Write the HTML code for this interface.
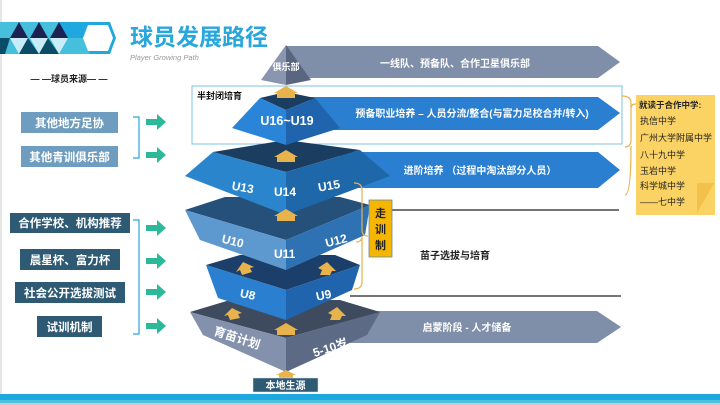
<!DOCTYPE html>
<html><head><meta charset="utf-8"><style>
body{margin:0;background:#fff;}
svg{display:block;font-family:"Liberation Sans","Noto Sans CJK SC",sans-serif;}
</style></head><body>
<svg width="720" height="405" viewBox="0 0 720 405" xmlns="http://www.w3.org/2000/svg">
<rect x="0" y="0" width="720" height="405" fill="#fff"/>
<rect x="0" y="0" width="2" height="405" fill="#e6e6e6"/>
<!-- header banner -->
<rect x="0" y="22" width="110" height="16" fill="#45bfdc"/>
<rect x="0" y="38" width="110" height="16" fill="#45bfdc"/>
<rect x="60" y="22" width="50" height="16" fill="#1fa7e0"/>
<polygon points="10,38 19,22 28,38" fill="#1b2352"/>
<polygon points="30,38 39,22 48,38" fill="#1b2352"/>
<polygon points="50,38 59,22 68,38" fill="#1b2352"/>
<polygon points="0,38 10,38 5,54 0,54" fill="#0b4c66"/>
<polygon points="10,38 28,38 19,54" fill="#c9ecf6"/>
<polygon points="19,54 28,38 39,54" fill="#0b4c66"/>
<polygon points="30,38 48,38 39,54" fill="#c9ecf6"/>
<polygon points="39,54 48,38 59,54" fill="#0b4c66"/>
<polygon points="50,38 68,38 59,54" fill="#c9ecf6"/>
<polygon points="90,22 110,22 116,38 110,54 90,54 84,38" fill="#1fa7e0"/>
<polygon points="88,25 108,25 113,38 108,51 88,51 83,38" fill="#fff"/>
<text x="130" y="45" font-size="23" font-weight="bold" fill="#29a6dc">球员发展路径</text>
<text x="130" y="60" font-size="7.5" font-style="italic" fill="#999">Player Growing Path</text>
<!-- left sources -->
<text x="69" y="82" font-size="9" font-weight="bold" fill="#222" text-anchor="middle">— —球员来源— —</text>
<rect x="21" y="112" width="97" height="21" fill="#6f9dc0"/>
<text x="69.5" y="127" font-size="11.5" font-weight="bold" fill="#fff" text-anchor="middle">其他地方足协</text>
<rect x="21" y="146" width="97" height="21" fill="#6f9dc0"/>
<text x="69.5" y="161" font-size="11.5" font-weight="bold" fill="#fff" text-anchor="middle">其他青训俱乐部</text>
<path d="M133,117 H139 V158 H133" fill="none" stroke="#29a6dc" stroke-width="1.2"/>
<path d="M10,213 H130 V233 H10 Z" fill="#2e5a74"/>
<text x="70" y="227" font-size="11.5" font-weight="bold" fill="#fff" text-anchor="middle">合作学校、机构推荐</text>
<rect x="20" y="249" width="100" height="21" fill="#2e5a74"/>
<text x="70" y="264" font-size="11.5" font-weight="bold" fill="#fff" text-anchor="middle">晨星杯、富力杯</text>
<rect x="15" y="282" width="110" height="21" fill="#2e5a74"/>
<text x="70" y="297" font-size="11.5" font-weight="bold" fill="#fff" text-anchor="middle">社会公开选拔测试</text>
<rect x="37" y="316" width="65" height="21" fill="#2e5a74"/>
<text x="69.5" y="331" font-size="11.5" font-weight="bold" fill="#fff" text-anchor="middle">试训机制</text>
<path d="M133,220 H139 V334 H133" fill="none" stroke="#29a6dc" stroke-width="1.2"/>
<g fill="#2bb99a">
<polygon points="146,119 157,119 157,114 166,122 157,130 157,125 146,125"/>
<polygon points="146,152 157,152 157,147 166,155 157,163 157,158 146,158"/>
<polygon points="146,225 157,225 157,220 166,228 157,236 157,231 146,231"/>
<polygon points="146,258 157,258 157,253 166,261 157,269 157,264 146,264"/>
<polygon points="146,289 157,289 157,284 166,292 157,300 157,295 146,295"/>
<polygon points="146,323 157,323 157,318 166,326 157,334 157,329 146,329"/>
</g>
<!-- banners -->
<polygon points="286,46 598,46 620,62 598,78 286,78" fill="#7f8fa9"/>
<text x="455" y="67" font-size="10" font-weight="bold" fill="#fff" text-anchor="middle">一线队、预备队、合作卫星俱乐部</text>
<rect x="192" y="86" width="430" height="58" fill="none" stroke="#7fc0dc" stroke-width="1"/>
<polygon points="310,97 598,97 620,113 598,130 310,130" fill="#2a7fd0"/>
<text x="472" y="117" font-size="10" font-weight="bold" fill="#fff" text-anchor="middle">预备职业培养 – 人员分流/整合(与富力足校合并/转入)</text>
<polygon points="340,152 598,152 620,170 598,188 340,188" fill="#2a7fd0"/>
<text x="480" y="174" font-size="10" font-weight="bold" fill="#fff" text-anchor="middle">进阶培养 （过程中淘汰部分人员）</text>
<line x1="392" y1="210" x2="619" y2="210" stroke="#222" stroke-width="1.2"/>
<line x1="350" y1="296" x2="621" y2="296" stroke="#222" stroke-width="1.2"/>
<text x="455" y="259" font-size="10" font-weight="bold" fill="#222" text-anchor="middle">苗子选拔与培育</text>
<polygon points="330,311 597,311 621,327 597,343 330,343" fill="#7f8fa9"/>
<text x="467" y="331" font-size="10" font-weight="bold" fill="#fff" text-anchor="middle">启蒙阶段 - 人才储备</text>
<!-- bottom grey layer -->
<polygon points="190,312 230,300 340,300 380,312 286,338" fill="#3e4a5e"/>
<polygon points="190,312 286,338 286,372 203,335" fill="#8391ac"/>
<polygon points="286,338 380,312 367,335 286,372" fill="#5c6a86"/>
<text x="212" y="340" font-size="12" font-weight="bold" fill="#fff" transform="rotate(18 230 340)">育苗计划</text>
<text x="313" y="352" font-size="12" font-weight="bold" fill="#fff" transform="rotate(-18 330 350)">5-10岁</text>
<!-- U8-9 layer -->
<polygon points="206,265 240,255 335,255 360,265 286,290" fill="#1b3f6a"/>
<polygon points="206,265 286,290 286,320 218,298" fill="#2a7fd0"/>
<polygon points="286,290 360,265 352,290 286,320" fill="#1f64ad"/>
<text x="240" y="299" font-size="12" font-weight="bold" fill="#fff" transform="rotate(12 250 295)">U8</text>
<text x="316" y="299" font-size="12" font-weight="bold" fill="#fff" transform="rotate(-12 325 295)">U9</text>
<!-- U10-12 layer -->
<polygon points="185,210 225,197 340,197 370,205 286,240" fill="#24507a"/>
<polygon points="185,210 286,240 286,270 200,240" fill="#5d99cf"/>
<polygon points="286,240 370,205 365,235 286,270" fill="#2f72b4"/>
<text x="222" y="245" font-size="12" font-weight="bold" fill="#fff" transform="rotate(14 232 240)">U10</text>
<text x="274" y="258" font-size="12" font-weight="bold" fill="#fff">U11</text>
<text x="325" y="245" font-size="12" font-weight="bold" fill="#fff" transform="rotate(-14 335 240)">U12</text>
<!-- U13-15 layer -->
<polygon points="213,152 286,140 360,150 286,172" fill="#1a3d60"/>
<polygon points="213,152 286,172 286,215 185,176" fill="#2a85cc"/>
<polygon points="286,172 360,150 390,176 286,215" fill="#1e67a8"/>
<text x="232" y="191" font-size="12" font-weight="bold" fill="#fff" transform="rotate(10 240 186)">U13</text>
<text x="274" y="196" font-size="12" font-weight="bold" fill="#fff">U14</text>
<text x="318" y="190" font-size="12" font-weight="bold" fill="#fff" transform="rotate(-10 328 186)">U15</text>
<!-- U16 layer -->
<polygon points="260,98 286,92 315,98 286,110" fill="#1a3d60"/>
<polygon points="260,98 286,110 286,145 232,128" fill="#2a85d8"/>
<polygon points="286,110 315,98 340,128 286,145" fill="#1f64ad"/>
<text x="287" y="125" font-size="12.5" font-weight="bold" fill="#fff" text-anchor="middle">U16~U19</text>
<text x="197" y="99" font-size="9" font-weight="bold" fill="#111">半封闭培育</text>
<!-- top pyramid -->
<polygon points="286,45 261,80 286,85" fill="#8a96b0"/>
<polygon points="286,45 311,80 286,85" fill="#5a6680"/>
<text x="286" y="70" font-size="9" font-weight="bold" fill="#fff" text-anchor="middle">俱乐部</text>
<!-- yellow arrows -->
<g fill="#e8b34c">
<polygon points="277,98 277,93 274,93 286,86 298,93 295,93 295,98"/>
<polygon points="277,162 277,157 274,157 286,150 298,157 295,157 295,162"/>
<polygon points="277,221 277,216 274,216 286,209 298,216 295,216 295,221"/>
<polygon points="242,275 240,270 236,272 243,262 254,267 250,268 252,272" />
<polygon points="320,275 322,270 318,268 327,262 336,271 332,271 330,275" />
<polygon points="230,320 228,315 224,316 232,308 242,313 238,314 240,318"/>
<polygon points="330,320 332,315 328,313 337,307 346,316 342,316 340,320"/>
<polygon points="277,335 277,330 274,330 286,323 298,330 295,330 295,335"/>
<polygon points="279,378 279,375 276,375 286,370 296,375 293,375 293,378"/>
</g>
<rect x="253" y="378" width="65" height="14" fill="#2e5a74" stroke="#dfe6ea" stroke-width="0.5"/>
<text x="285.5" y="389" font-size="10" font-weight="bold" fill="#fff" text-anchor="middle">本地生源</text>
<!-- 走训制 -->
<path d="M354,183 Q362,183 362,190 V230 Q362,236 368,236 M362,236 Q362,242 356,242 M362,236 V282 Q362,289 354,289" fill="none" stroke="#e8b34c" stroke-width="1.2"/>
<rect x="369" y="200" width="23" height="57" fill="#f6b600" stroke="#6b8aa0" stroke-width="0.8"/>
<text x="380.5" y="217" font-size="11" font-weight="bold" fill="#222" text-anchor="middle">走</text>
<text x="380.5" y="233" font-size="11" font-weight="bold" fill="#222" text-anchor="middle">训</text>
<text x="380.5" y="249" font-size="11" font-weight="bold" fill="#222" text-anchor="middle">制</text>
<!-- right yellow box -->
<path d="M622,96 Q631,96 631,103 V140 Q631,147 625,147 M631,108 Q631,104 636,104 M631,147 V146 Q631,195 625,195" fill="none" stroke="#e8b34c" stroke-width="1.2"/>
<rect x="636" y="95" width="79" height="120" fill="#fbd364"/>
<polygon points="697,183 714,183 697,213" fill="#f3c04a"/>
<g font-size="9" fill="#222">
<text x="639" y="108" font-weight="bold" font-size="8.5">就读于合作中学:</text>
<text x="640" y="124">执信中学</text>
<text x="640" y="141">广州大学附属中学</text>
<text x="640" y="158">八十九中学</text>
<text x="640" y="174">玉岩中学</text>
<text x="640" y="189">科学城中学</text>
<text x="640" y="205">——七中学</text>
</g>
<!-- bottom stripes -->
<rect x="0" y="394" width="720" height="6" fill="#1fa7e0"/>
<rect x="0" y="400" width="720" height="3" fill="#4ac2dc"/>
<rect x="0" y="403" width="720" height="2" fill="#ccc"/>
</svg>
</body></html>
